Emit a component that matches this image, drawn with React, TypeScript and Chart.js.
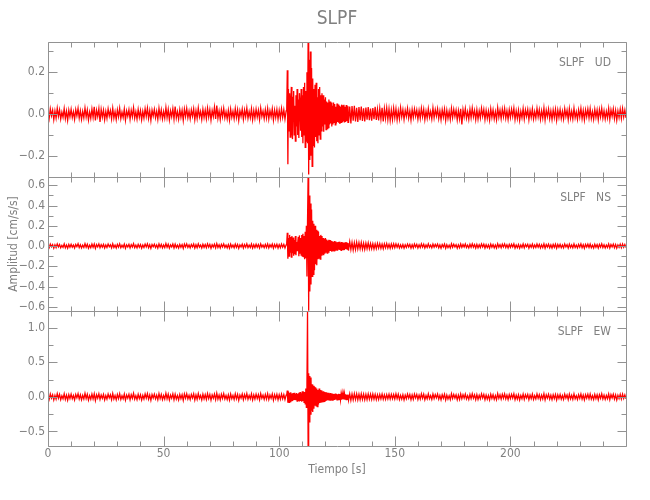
import React, { useEffect, useRef } from "react";
import { Chart, registerables } from "chart.js";

Chart.register(...registerables);

// ---- sampling of the traces (seconds) ----
const PRE_T0 = 0;        // pre-event noise, every DT_SLOW s
const BURST_T0 = 103.25; // event, every DT_FAST s
const POST_T0 = 130;     // coda + noise, every DT_SLOW s
const DT_SLOW = 0.5;
const DT_FAST = 0.25;

const TITLE = "SLPF";
const PANEL_NAMES = ["SLPF   UD", "SLPF   NS", "SLPF   EW"];
const PANEL_IDS = ["yUD", "yNS", "yEW"];
const Y_MIN = [-0.3, -0.645, -0.71];
const Y_MAX = [0.345, 0.685, 1.235];
const Y_MINOR = [0.1, 0.1, 0.25];
const Y_MAJOR = [0.2, 0.2, 0.5];
const X_MIN = 0;
const X_MAX = 250;
const X_MINOR = 10;
const X_MAJOR = 50;
const X_TITLE = "Tiempo [s]";
const Y_TITLE = "Amplitud [cm/s/s]";

// ---- UD (cm/s/s) ----
const UD_PRE = [
  .012,-.021,.025,-.008,.018,-.027,.015,-.019,.028,-.011,.02,-.024,.009,-.016,.026,-.022,.014,-.03,.019,-.013,
  .023,-.017,.011,-.026,.021,-.009,.027,-.02,.016,-.025,.013,-.018,.029,-.014,.02,-.028,.01,-.021,.024,-.016,
  .035,-.031,.018,-.012,.026,-.038,.022,-.015,.019,-.027,.013,-.02,.025,-.01,.017,-.023,.028,-.019,.012,-.026,
  .02,-.014,.027,-.022,.009,-.017,.024,-.029,.015,-.011,.021,-.025,.018,-.013,.03,-.02,.011,-.024,.022,-.016,
  .017,-.027,.013,-.019,.025,-.012,.028,-.021,.016,-.03,.019,-.01,.023,-.018,.014,-.026,.027,-.015,.02,-.023,
  .012,-.02,.031,-.017,.022,-.028,.015,-.013,.026,-.024,.036,-.019,.011,-.025,.021,-.016,.018,-.03,.024,-.012,
  .027,-.018,.014,-.023,.02,-.011,.025,-.027,.016,-.021,.029,-.014,.012,-.026,.023,-.017,.019,-.022,.028,-.015,
  .021,-.029,.017,-.012,.033,-.024,.04,-.02,.015,-.026,.022,-.013,.027,-.019,.011,-.023,.018,-.028,.024,-.016,
  .013,-.022,.026,-.017,.02,-.03,.016,-.011,.024,-.025,.019,-.014,.028,-.021,.012,-.018,.025,-.027,.017,-.02,
  .023,-.015,.018,-.026,.029,-.012,.014,-.022,.021,-.019,.027,-.024,.016,-.013,.025,-.028,.019,-.017,.022,-.025,
  .018,-.021,.026,-.016,.02,-.024,.015,
];
const UD_BURST = [
  .02,.21,-.24,.12,-.08,.1,-.11,.06,.13,-.09,
  -.12,.08,.11,-.1,.04,-.13,.09,-.06,.12,-.1,
  .07,-.115,.1,.05,-.08,.12,-.11,.09,-.14,.13,
  -.1,.15,-.16,.11,-.13,.2,-.14,.34,-.29,.26,
  -.22,.3,-.2,.22,-.25,.17,-.15,.12,-.16,.14,
  -.11,.15,-.13,.08,-.14,.12,-.1,.13,-.12,.09,
  -.08,.1,-.06,.09,-.085,.07,-.05,.08,-.075,.06,
  -.07,.055,-.065,.07,-.05,.06,-.045,.055,-.06,.04,
  -.05,.055,-.04,.048,-.052,.035,-.045,.05,-.038,.046,
  -.042,.04,-.048,.033,-.04,.045,-.036,.042,-.03,.044,
  -.041,.035,-.038,.043,-.033,.037,-.04,
];
const UD_POST = [
  -.04,.036,-.045,.038,-.032,.04,-.035,.03,-.038,.034,-.029,.036,-.033,.028,-.036,.031,-.027,.033,-.03,.026,
  -.032,.029,-.025,.034,-.028,.022,-.031,.027,-.024,.03,-.035,.026,-.021,.029,-.027,.024,-.03,.02,-.026,.028,
  -.019,.025,-.028,.016,-.023,.03,-.014,.021,-.026,.018,-.012,.027,-.02,.015,-.029,.022,-.017,.024,-.011,.019,
  -.025,.017,-.021,.028,-.013,.023,-.027,.014,-.02,.026,-.016,.012,-.024,.029,-.018,.021,-.01,.025,-.022,.015,
  -.027,.02,-.015,.024,-.03,.018,-.021,.013,-.026,.027,-.017,.022,-.012,.019,-.028,.016,-.023,.025,-.05,.021,
  -.014,.026,-.02,.011,-.025,.023,-.018,.029,-.013,.017,-.027,.021,-.024,.015,-.019,.028,-.011,.022,-.026,.018,
  -.021,.014,-.028,.025,-.016,.02,-.023,.012,-.027,.03,-.015,.019,-.022,.024,-.013,.027,-.02,.016,-.025,.021,
  -.017,.023,-.012,.028,-.026,.015,-.021,.019,-.029,.013,-.018,.026,-.024,.02,-.011,.022,-.027,.017,-.016,.025,
  -.023,.012,-.019,.027,-.014,.021,-.025,.016,-.02,.029,-.028,.018,-.013,.024,-.022,.015,-.026,.02,-.017,.023,
  -.029,.019,-.016,.022,-.021,.013,-.024,.026,-.012,.018,-.027,.025,-.02,.014,-.023,.028,-.018,.011,-.025,.02,
  -.015,.027,-.022,.017,-.028,.02,-.013,.024,-.019,.026,-.021,.012,-.025,.023,-.016,.019,-.027,.021,-.014,.028,
  -.02,.016,-.024,.013,-.018,.027,-.026,.02,-.011,.025,-.022,.018,-.029,.015,-.017,.023,-.021,.026,-.014,.019,
  -.018,
];

// ---- NS (cm/s/s) ----
const NS_PRE = [
  .011,-.016,.019,-.008,.014,-.021,.012,-.015,.02,-.009,.016,-.018,.007,-.013,.021,-.017,.01,-.022,.015,-.012,
  .018,-.011,.009,-.02,.016,-.007,.022,-.015,.012,-.019,.01,-.014,.023,-.012,.017,-.021,.008,-.016,.019,-.013,
  .02,-.024,.014,-.009,.021,-.017,.013,-.011,.016,-.02,.01,-.015,.019,-.008,.013,-.018,.022,-.014,.009,-.02,
  .016,-.012,.021,-.017,.008,-.013,.019,-.022,.012,-.009,.017,-.019,.014,-.01,.023,-.016,.009,-.018,.017,-.012,
  .014,-.021,.01,-.015,.019,-.009,.022,-.016,.013,-.023,.015,-.008,.018,-.014,.011,-.02,.021,-.012,.016,-.018,
  .01,-.016,.024,-.013,.017,-.021,.012,-.01,.02,-.019,.018,-.015,.009,-.02,.016,-.012,.014,-.023,.019,-.01,
  .021,-.014,.011,-.018,.016,-.009,.02,-.021,.013,-.016,.022,-.011,.01,-.02,.018,-.013,.015,-.017,.022,-.012,
  .016,-.022,.013,-.01,.019,-.018,.024,-.015,.012,-.02,.017,-.01,.021,-.015,.009,-.018,.014,-.022,.019,-.013,
  .01,-.017,.02,-.013,.016,-.023,.012,-.009,.019,-.02,.015,-.011,.022,-.016,.01,-.014,.02,-.021,.013,-.016,
  .018,-.012,.014,-.02,.022,-.01,.011,-.017,.016,-.015,.021,-.019,.013,-.01,.02,-.022,.015,-.013,.017,-.02,
  .014,-.017,.02,-.012,.016,-.019,.012,
];
const NS_BURST = [
  .03,.13,-.125,.08,-.1,.11,-.06,.09,-.11,.1,
  -.07,.085,-.095,.06,-.08,.1,-.09,.04,-.045,.03,
  .09,-.1,.105,-.07,.08,-.09,.11,-.1,.12,-.11,
  .1,-.13,.14,-.12,.2,-.3,.25,.68,-.64,.5,
  -.45,.42,-.38,.36,-.3,.25,-.28,.22,-.24,.2,
  -.18,.16,-.19,.15,-.13,.14,-.12,.1,-.13,.11,
  -.09,.1,-.085,.08,-.09,.07,-.075,.08,-.06,.065,
  -.07,.055,-.06,.062,-.05,.058,-.048,.05,-.055,.045,
  -.05,.042,-.048,.05,-.04,.045,-.043,.038,-.046,.04,
  -.036,.043,-.038,.035,-.042,.04,-.033,.038,-.036,.032,
  -.04,.036,-.03,.038,-.034,.03,-.035,
];
const NS_POST = [
  -.038,.042,-.035,.036,-.04,.032,-.034,.038,-.03,.033,-.028,.035,-.031,.027,-.033,.029,-.026,.031,-.028,.025,
  -.027,.023,-.029,.021,-.025,.026,-.02,.024,-.023,.019,-.026,.022,-.018,.024,-.021,.017,-.023,.02,-.019,.022,
  -.016,.021,-.013,.018,-.02,.011,-.017,.015,-.022,.012,-.014,.019,-.01,.016,-.021,.013,-.018,.02,-.009,.017,
  -.019,.012,-.016,.022,-.011,.018,-.02,.01,-.015,.021,-.013,.009,-.018,.02,-.012,.016,-.008,.019,-.017,.011,
  -.021,.015,-.01,.019,-.022,.013,-.016,.009,-.02,.022,-.012,.017,-.009,.014,-.021,.012,-.018,.02,-.014,.016,
  -.01,.02,-.015,.009,-.019,.017,-.013,.022,-.011,.014,-.02,.016,-.018,.012,-.015,.021,-.009,.018,-.02,.013,
  -.016,.011,-.021,.019,-.012,.015,-.018,.01,-.02,.023,-.011,.014,-.017,.018,-.01,.021,-.015,.012,-.019,.016,
  -.013,.018,-.009,.021,-.02,.011,-.016,.015,-.022,.01,-.014,.02,-.018,.016,-.008,.017,-.021,.013,-.012,.019,
  -.018,.01,-.015,.02,-.011,.016,-.019,.012,-.016,.022,-.021,.014,-.01,.018,-.017,.011,-.02,.015,-.013,.018,
  -.022,.015,-.012,.017,-.016,.01,-.018,.02,-.009,.014,-.021,.019,-.015,.011,-.018,.021,-.014,.009,-.019,.016,
  -.012,.021,-.017,.013,-.022,.016,-.01,.018,-.015,.02,-.016,.009,-.019,.018,-.012,.015,-.021,.016,-.011,.022,
  -.015,.012,-.019,.01,-.014,.021,-.02,.015,-.009,.019,-.017,.014,-.022,.011,-.013,.018,-.016,.02,-.011,.015,
  -.014,
];

// ---- EW (cm/s/s) ----
const EW_PRE = [
  .025,-.036,.041,-.018,.03,-.044,.022,-.033,.047,-.02,.035,-.04,.016,-.028,.043,-.037,.024,-.049,.032,-.026,
  .039,-.027,.019,-.045,.034,-.015,.046,-.031,.028,-.042,.021,-.03,.05,-.024,.036,-.047,.017,-.035,.04,-.029,
  .044,-.052,.03,-.02,.043,-.038,.027,-.023,.034,-.045,.019,-.032,.041,-.017,.029,-.04,.048,-.03,.02,-.043,
  .034,-.025,.045,-.037,.016,-.028,.04,-.048,.026,-.019,.037,-.042,.03,-.021,.05,-.034,.018,-.039,.036,-.027,
  .029,-.046,.021,-.032,.042,-.019,.047,-.035,.027,-.05,.033,-.017,.039,-.03,.023,-.043,.045,-.026,.035,-.039,
  .02,-.034,.052,-.028,.037,-.046,.026,-.022,.043,-.041,.038,-.032,.018,-.044,.035,-.026,.031,-.05,.041,-.021,
  .045,-.03,.023,-.039,.034,-.018,.043,-.045,.028,-.035,.048,-.024,.02,-.043,.039,-.029,.033,-.037,.047,-.025,
  .035,-.048,.028,-.021,.041,-.039,.051,-.033,.025,-.044,.037,-.022,.046,-.032,.019,-.038,.03,-.047,.041,-.027,
  .022,-.037,.043,-.029,.034,-.05,.026,-.019,.041,-.042,.032,-.024,.048,-.035,.021,-.03,.042,-.045,.028,-.034,
  .038,-.026,.031,-.043,.047,-.021,.024,-.036,.035,-.032,.045,-.04,.027,-.022,.042,-.047,.032,-.028,.037,-.042,
  .03,-.035,.041,-.027,.033,-.04,.025,
];
const EW_BURST = [
  .03,.09,-.085,.075,-.08,.06,-.07,.065,-.055,.05,
  -.06,.055,-.05,.06,-.045,.04,-.05,.055,-.06,.045,
  -.05,.06,-.065,.07,-.06,.05,-.07,.08,-.06,.075,
  -.08,.07,-.1,.12,-.15,.2,1.23,-.71,.34,-.36,
  .3,-.25,.28,-.2,.18,-.22,.16,-.17,.15,-.12,
  .14,-.13,.12,-.14,.1,-.11,.12,-.09,.1,-.085,
  .09,-.08,.075,-.07,.08,-.065,.07,-.06,.065,-.055,
  .06,-.05,.058,-.052,.05,-.048,.055,-.045,.05,-.047,
  .044,-.05,.041,-.043,.046,-.039,.042,-.045,.038,-.041,
  .044,-.036,.04,-.043,.037,-.04,.042,-.035,.039,-.038,
  .041,-.033,.036,-.04,.031,-.037,.034,
];
const EW_POST = [
  -.047,.044,-.05,.041,-.043,.046,-.039,.042,-.045,.038,-.041,.044,-.036,.04,-.043,.037,-.04,.042,-.035,.039,
  -.038,.041,-.033,.036,-.04,.031,-.037,.034,-.03,.039,-.035,.028,-.036,.033,-.029,.037,-.032,.035,-.027,.034,
  -.031,.042,-.026,.036,-.04,.022,-.034,.03,-.044,.025,-.028,.039,-.02,.033,-.042,.027,-.036,.04,-.018,.035,
  -.038,.024,-.032,.044,-.021,.037,-.041,.019,-.03,.043,-.027,.018,-.036,.041,-.024,.033,-.016,.039,-.035,.022,
  -.042,.03,-.02,.038,-.045,.026,-.033,.017,-.04,.044,-.023,.035,-.018,.029,-.043,.024,-.037,.041,-.028,.032,
  -.019,.04,-.03,.017,-.039,.035,-.026,.045,-.021,.028,-.042,.032,-.036,.023,-.029,.043,-.017,.034,-.04,.027,
  -.033,.021,-.043,.038,-.024,.03,-.036,.019,-.041,.046,-.022,.029,-.034,.037,-.02,.042,-.031,.025,-.038,.033,
  -.026,.036,-.018,.043,-.04,.023,-.032,.03,-.045,.02,-.028,.04,-.037,.031,-.017,.034,-.042,.026,-.025,.039,
  -.036,.019,-.029,.041,-.022,.032,-.039,.024,-.031,.045,-.043,.028,-.02,.037,-.034,.023,-.04,.031,-.026,.035,
  -.044,.029,-.025,.034,-.032,.02,-.037,.04,-.018,.028,-.041,.038,-.03,.022,-.035,.043,-.027,.017,-.038,.031,
  -.023,.041,-.034,.026,-.043,.031,-.02,.037,-.029,.039,-.032,.018,-.038,.035,-.025,.029,-.042,.032,-.021,.044,
  -.03,.025,-.037,.02,-.027,.041,-.04,.031,-.017,.038,-.034,.027,-.045,.023,-.026,.036,-.032,.04,-.022,.029,
  -.028,
];

const SERIES = [
  [UD_PRE, UD_BURST, UD_POST],
  [NS_PRE, NS_BURST, NS_POST],
  [EW_PRE, EW_BURST, EW_POST],
];

// ---- styles ----
const FONT = '"DejaVu Sans Condensed", "DejaVu Sans", sans-serif';
const TEXT_COLOR = "#808080";
const AXIS_COLOR = "#929292";
const LINE_COLOR = "rgb(255,0,0)";

const isMultiple = (v: number, step: number) =>
  Math.abs(v / step - Math.round(v / step)) < 1e-6;

const fmtY = (v: number) => {
  if (Math.abs(v) < 1e-9) return "0.0";
  const s = v.toFixed(1);
  return s.startsWith("-") ? "\u2212" + s.slice(1) : s;
};

function toPoints(parts: number[][]) {
  const [pre, burst, post] = parts;
  return [
    ...pre.map((v, i) => ({ x: PRE_T0 + i * DT_SLOW, y: v })),
    ...burst.map((v, i) => ({ x: BURST_T0 + i * DT_FAST, y: v })),
    ...post.map((v, i) => ({ x: POST_T0 + i * DT_SLOW, y: v })),
  ];
}

const panelPlugin = {
  id: "panelFrames",
  afterDraw(chart: any) {
    const ctx = chart.ctx;
    const xs = chart.scales.x;
    const L = Math.round(xs.left) + 0.5;
    const R = Math.round(xs.right) + 0.5;
    ctx.save();
    ctx.strokeStyle = AXIS_COLOR;
    ctx.lineWidth = 1;
    ctx.beginPath();
    PANEL_IDS.forEach((id, k) => {
      const ys = chart.scales[id];
      const T = Math.round(ys.top) + 0.5;
      const B = Math.round(ys.bottom) + 0.5;
      ctx.moveTo(L, T);
      ctx.lineTo(R, T);
      ctx.lineTo(R, B);
      ctx.lineTo(L, B);
      ctx.closePath();
      xs.ticks.forEach((t: any) => {
        const px = Math.round(xs.getPixelForValue(t.value)) + 0.5;
        const len = isMultiple(t.value, X_MAJOR) ? 10 : 5;
        ctx.moveTo(px, T);
        ctx.lineTo(px, T + len);
        ctx.moveTo(px, B);
        ctx.lineTo(px, B - len);
      });
      ys.ticks.forEach((t: any) => {
        const py = Math.round(ys.getPixelForValue(t.value)) + 0.5;
        const len = isMultiple(t.value, Y_MAJOR[k]) ? 9 : 5;
        ctx.moveTo(L, py);
        ctx.lineTo(L + len, py);
        ctx.moveTo(R, py);
        ctx.lineTo(R - len, py);
      });
    });
    ctx.stroke();
    ctx.fillStyle = TEXT_COLOR;
    ctx.font = "12px " + FONT;
    ctx.textAlign = "right";
    ctx.textBaseline = "middle";
    PANEL_IDS.forEach((id, k) => {
      const ys = chart.scales[id];
      ctx.fillText(PANEL_NAMES[k], xs.right - 15, ys.top + 21);
    });
    ctx.font = "19px " + FONT;
    ctx.textAlign = "center";
    ctx.fillText(TITLE, (xs.left + xs.right) / 2, 19);
    ctx.restore();
  },
};

function yScale(k: number) {
  return {
    type: "linear",
    position: "left",
    stack: "panels",
    stackWeight: 1,
    weight: 3 - k,
    min: Y_MIN[k],
    max: Y_MAX[k],
    grid: { display: false, drawTicks: false },
    border: { display: false },
    ticks: {
      stepSize: Y_MINOR[k],
      includeBounds: false,
      autoSkip: false,
      padding: 3,
      color: TEXT_COLOR,
      font: { family: FONT, size: 12 },
      callback: (v: any) => (isMultiple(Number(v), Y_MAJOR[k]) ? fmtY(Number(v)) : ""),
    },
    title: {
      display: k === 1,
      text: Y_TITLE,
      color: TEXT_COLOR,
      font: { family: FONT, size: 12 },
      padding: { top: 7, bottom: 0 },
    },
    afterFit: (s: any) => {
      s.width = 48;
    },
  };
}

export default function App() {
  const ref = useRef<HTMLCanvasElement>(null);
  useEffect(() => {
    if (!ref.current) return;
    const datasets = SERIES.map((parts, k) => ({
      label: PANEL_NAMES[k],
      data: toPoints(parts),
      yAxisID: PANEL_IDS[k],
      borderColor: LINE_COLOR,
      borderWidth: 1.3,
      pointRadius: 0,
      tension: 0,
      fill: false,
    }));
    const chart = new Chart(ref.current, {
      type: "line",
      data: { datasets },
      options: {
        animation: false,
        responsive: false,
        parsing: false,
        layout: { padding: { top: 42, right: 24, left: 0, bottom: 0 } },
        plugins: { legend: { display: false }, tooltip: { enabled: false }, title: { display: false } },
        scales: {
          x: {
            type: "linear",
            position: "bottom",
            min: X_MIN,
            max: X_MAX,
            grid: { display: false, drawTicks: false },
            border: { display: false },
            ticks: {
              stepSize: X_MINOR,
              autoSkip: false,
              includeBounds: false,
              maxRotation: 0,
              padding: 1,
              color: TEXT_COLOR,
              font: { family: FONT, size: 12 },
              callback: (v: any) =>
                isMultiple(Number(v), X_MAJOR) && Number(v) < X_MAX ? String(v) : "",
            },
            title: {
              display: true,
              text: X_TITLE,
              color: TEXT_COLOR,
              font: { family: FONT, size: 12 },
              padding: { top: 0, bottom: 23 },
            },
            afterFit: (s: any) => {
              s.height = 54;
            },
          },
          yUD: yScale(0),
          yNS: yScale(1),
          yEW: yScale(2),
        } as any,
      },
      plugins: [panelPlugin],
    } as any);
    return () => chart.destroy();
  }, []);
  return (
    <div style={{ position: "absolute", left: 0, top: 0, width: 650, height: 500, background: "#fff" }}>
      <canvas ref={ref} width={650} height={500} style={{ display: "block" }} />
    </div>
  );
}
